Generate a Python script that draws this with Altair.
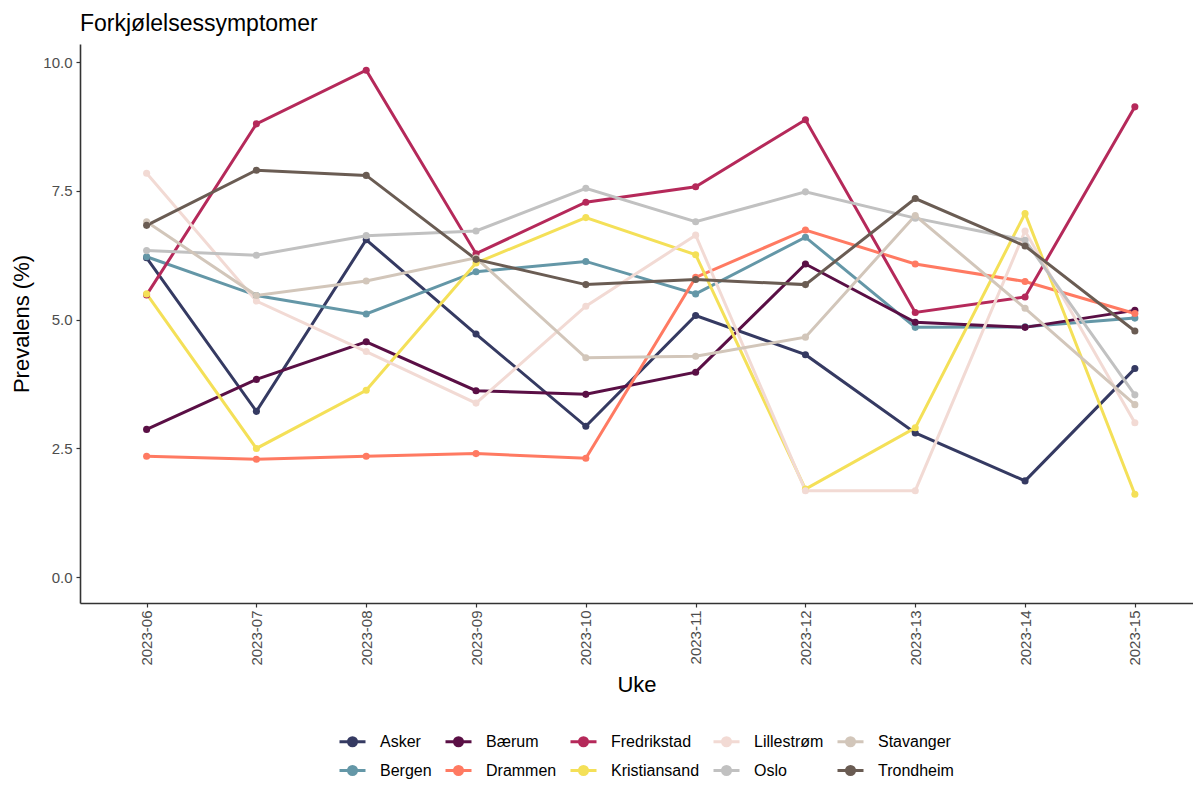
import altair as alt
import pandas as pd

weeks = ["2023-06", "2023-07", "2023-08", "2023-09", "2023-10",
         "2023-11", "2023-12", "2023-13", "2023-14", "2023-15"]

asker = [6.20, 3.22, 6.55, 4.72, 2.93, 5.08, 4.32, 2.80, 1.87, 4.05]
baerum = [2.87, 3.84, 4.57, 3.62, 3.55, 3.98, 6.08, 4.95, 4.85, 5.18]
fredrikstad = [5.48, 8.80, 9.84, 6.28, 7.28, 7.58, 8.88, 5.14, 5.44, 9.13]
lillestrom = [7.84, 5.36, 4.38, 3.38, 5.26, 6.64, 1.68, 1.68, 6.72, 3.00]
stavanger = [6.90, 5.47, 5.75, 6.20, 4.26, 4.29, 4.66, 7.02, 5.22, 3.35]
bergen = [6.22, 5.47, 5.11, 5.93, 6.13, 5.50, 6.60, 4.85, 4.86, 5.03]
drammen = [2.35, 2.29, 2.35, 2.40, 2.31, 5.82, 6.74, 6.08, 5.74, 5.12]
kristiansand = [5.50, 2.50, 3.63, 6.10, 6.98, 6.26, 1.71, 2.90, 7.06, 1.61]
oslo = [6.34, 6.25, 6.63, 6.72, 7.55, 6.90, 7.48, 6.97, 6.54, 3.54]
trondheim = [6.83, 7.90, 7.80, 6.17, 5.68, 5.78, 5.68, 7.35, 6.43, 4.78]

# drawing order (alphabetical)
cities = ["Asker", "Bergen", "Bærum", "Drammen", "Fredrikstad",
          "Kristiansand", "Lillestrøm", "Oslo", "Stavanger", "Trondheim"]
series = [asker, bergen, baerum, drammen, fredrikstad,
          kristiansand, lillestrom, oslo, stavanger, trondheim]

# legend order (row-major, 5 columns)
legend_order = ["Asker", "Bærum", "Fredrikstad", "Lillestrøm", "Stavanger",
                "Bergen", "Drammen", "Kristiansand", "Oslo", "Trondheim"]
legend_colors = ["#353A62", "#5A0F45", "#B5295A", "#F2DAD4", "#D2C6BA",
                 "#6497A7", "#FF7A62", "#F4E058", "#C1C1C1", "#6A5C53"]

rows = []
for ci, (c, vals) in enumerate(zip(cities, series)):
    for w, v in zip(weeks, vals):
        rows.append({"Uke": w, "By": c, "Prevalens": v, "ord": ci})
df = pd.DataFrame(rows)

FONT = "Liberation Sans"
sym_path = "M-1,0L1,0M-0.31,0A0.31,0.31,0,1,1,0.31,0A0.31,0.31,0,1,1,-0.31,0Z"

color = alt.Color(
    "By:N",
    scale=alt.Scale(domain=legend_order, range=legend_colors),
    legend=alt.Legend(
        title=None, orient="none", legendX=258, legendY=683,
        columns=5, direction="horizontal",
        symbolType=sym_path, symbolSize=676, symbolStrokeWidth=3,
        labelFontSize=16, labelFont=FONT, labelColor="#000000",
        labelOffset=13, columnPadding=7, rowPadding=4, padding=0,
    ),
)

x = alt.X(
    "Uke:N",
    sort=weeks,
    scale=alt.Scale(type="point", padding=0.568, align=0.534),
    axis=alt.Axis(title="Uke", titleFontSize=22, titleFont=FONT,
                  titleFontWeight="normal", titleColor="#000000", titlePadding=9,
                  labelAngle=270, labelFontSize=15, labelFont=FONT,
                  labelColor="#4D4D4D", labelPadding=3,
                  tickColor="#333333", tickSize=4, tickWidth=1.2,
                  domainColor="#333333", domainWidth=1.6, grid=False),
)
y = alt.Y(
    "Prevalens:Q",
    scale=alt.Scale(domain=[-0.5, 10.35], nice=False, zero=False),
    axis=alt.Axis(title="Prevalens (%)", titleFontSize=22, titleFont=FONT,
                  titleFontWeight="normal", titleColor="#000000", titlePadding=9,
                  values=[0, 2.5, 5, 7.5, 10], format=".1f",
                  labelFontSize=15, labelFont=FONT, labelColor="#4D4D4D",
                  labelPadding=4, tickColor="#333333", tickSize=4, tickWidth=1.2,
                  domainColor="#333333", domainWidth=1.6, grid=False),
)

base = alt.Chart(df).encode(x=x, y=y, color=color, detail="By:N",
                            order=alt.Order("ord:Q"))
lines = base.mark_line(strokeWidth=3)
points = base.mark_point(filled=True, size=50, opacity=1)

chart = alt.layer(lines, points).properties(
    width=1113, height=559,
    background="white",
    title=alt.TitleParams("Forkjølelsessymptomer", anchor="start", fontSize=23,
                          font=FONT, fontWeight="normal", color="#000000",
                          frame="group", baseline="bottom", offset=12, dy=27),
    autosize=alt.AutoSizeParams(type="none"),
    padding={"left": 72, "top": 36, "right": 0, "bottom": 176},
).configure_view(strokeWidth=0, stroke="transparent")

chart.save("out.html", embed_options={"renderer": "svg", "actions": False})
